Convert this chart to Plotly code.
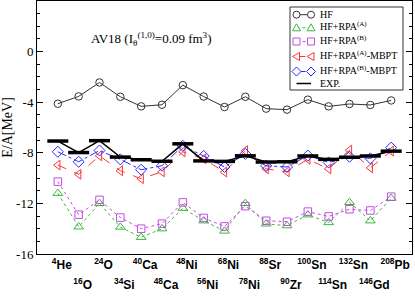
import plotly.graph_objects as go

nuclei = ["<sup>4</sup>He", "<sup>16</sup>O", "<sup>24</sup>O", "<sup>34</sup>Si", "<sup>40</sup>Ca",
          "<sup>48</sup>Ca", "<sup>48</sup>Ni", "<sup>56</sup>Ni", "<sup>68</sup>Ni", "<sup>78</sup>Ni",
          "<sup>88</sup>Sr", "<sup>90</sup>Zr", "<sup>100</sup>Sn", "<sup>114</sup>Sn", "<sup>132</sup>Sn",
          "<sup>146</sup>Gd", "<sup>208</sup>Pb"]
xpos = list(range(1, 18))

hf = [-4.12, -3.54, -2.44, -3.57, -4.33, -4.20, -2.65, -3.55, -4.38, -3.57, -4.51, -4.59, -3.80, -4.33, -4.14, -4.22, -3.86]
rpa_a = [-11.20, -13.85, -12.00, -13.87, -14.68, -14.00, -12.38, -13.37, -14.18, -12.00, -13.62, -13.76, -12.90, -13.51, -11.92, -13.37, -11.59]
rpa_b = [-10.28, -12.89, -11.72, -13.12, -14.00, -13.60, -11.92, -13.15, -13.82, -12.22, -13.37, -13.45, -12.65, -13.03, -12.46, -12.56, -11.47]
mbpt_a = [-8.97, -9.70, -8.24, -9.42, -10.05, -9.50, -7.92, -8.48, -9.52, -7.83, -9.27, -9.50, -8.51, -9.27, -7.79, -9.19, -7.87]
mbpt_b = [-7.92, -8.71, -7.82, -8.52, -9.34, -9.02, -7.45, -8.25, -9.12, -8.09, -9.03, -9.12, -8.22, -8.76, -8.31, -8.44, -7.59]
exp = [-7.07, -7.98, -7.04, -8.34, -8.55, -8.67, -7.29, -8.64, -8.68, -8.24, -8.73, -8.71, -8.25, -8.52, -8.35, -8.25, -7.87]

series_names = ["HF", "HF+RPA<sup>(A)</sup>", "HF+RPA<sup>(B)</sup>",
                "HF+RPA<sup>(A)</sup>-MBPT", "HF+RPA<sup>(B)</sup>-MBPT", "EXP."]
colors = ["#333333", "#3cb83c", "#c44be6", "#ff3535", "#2a2aff", "black"]
dashes = ["solid", "dot", "dot", "dash", "dashdot", "solid"]
symbols = ["circle-open", "triangle-up-open", "square-open", "triangle-left-open", "diamond-open", "line-ew-open"]
msizes = [7.5, 8.5, 7.5, 8.5, 8.5]

serif = "Liberation Serif"
sans = "Liberation Sans"

# plot area geometry (pixels) used for the hand-placed legend box
L, R, T, B = 37, 3, 1, 42
W, H = 415, 296
PW, PH = W - L - R, H - T - B


def px(xp):
    return (xp - L) / PW


def py(yp):
    return (H - B - yp) / PH


fig = go.Figure()
data = [hf, rpa_a, rpa_b, mbpt_a, mbpt_b]
for k, ys in enumerate(data):
    fig.add_trace(go.Scatter(x=xpos, y=ys, name=series_names[k], mode="lines+markers",
                             line=dict(color=colors[k], width=1, dash=dashes[k]),
                             marker=dict(symbol=symbols[k], size=msizes[k],
                                         color=colors[k], line=dict(width=1))))
fig.add_trace(go.Scatter(x=xpos, y=exp, name="EXP.", mode="lines+markers",
                         line=dict(color="black", width=1.5),
                         marker=dict(symbol="line-ew-open", size=15, color="black",
                                     line=dict(width=3.5, color="black"))))

odd = [i for i in range(17) if i % 2 == 0]
even = [i for i in range(17) if i % 2 == 1]

# legend drawn as a framed box with real text entries
shapes = [dict(type="rect", xref="paper", yref="paper", x0=px(290), x1=px(403), y0=py(90), y1=py(7),
               line=dict(color="#333333", width=1), fillcolor="white", layer="above")]
annotations = []
rows = [14.7, 27.8, 41.5, 56.5, 71.5, 83.5]
xa, xb = 296.5, 311
for k in range(6):
    yy = py(rows[k])
    shapes.append(dict(type="line", xref="paper", yref="paper", x0=px(xa), x1=px(xb), y0=yy, y1=yy,
                       line=dict(color=colors[k], width=1.5 if k == 5 else 1, dash=dashes[k]), layer="above"))
    if k < 5:
        for xc in (xa, xb):
            base = dict(xref="paper", yref="paper", xsizemode="pixel", ysizemode="pixel",
                        xanchor=px(xc), yanchor=yy, line=dict(color=colors[k], width=1),
                        fillcolor="white", layer="above")
            if k == 0:
                base.update(type="circle", x0=-3.5, x1=3.5, y0=-3.5, y1=3.5)
            elif k == 1:
                base.update(type="path", path="M -4,-3 L 4,-3 L 0,4 Z")
            elif k == 2:
                base.update(type="rect", x0=-3.5, x1=3.5, y0=-3.5, y1=3.5)
            elif k == 3:
                base.update(type="path", path="M -4,0 L 3,4 L 3,-4 Z")
            else:
                base.update(type="path", path="M -4.5,0 L 0,4.5 L 4.5,0 L 0,-4.5 Z")
            shapes.append(base)
    off = 1.5 if "<sup>" in series_names[k] else 0
    annotations.append(dict(x=px(318), y=py(rows[k] - off), xref="paper", yref="paper",
                            xanchor="left", yanchor="middle", showarrow=False,
                            text=series_names[k], font=dict(family=serif, size=10, color="black")))

annotations.append(dict(x=px(150.5), y=py(39), xref="paper", yref="paper", showarrow=False,
                        xanchor="center", yanchor="middle",
                        text="AV18 (I<sub>θ</sub><sup>(1,0)</sup>=0.09 fm<sup>3</sup>)",
                        font=dict(family=serif, size=13, color="black")))

fig.update_layout(
    width=W, height=H,
    margin=dict(l=L, r=R, t=T, b=B, autoexpand=False),
    plot_bgcolor="white", paper_bgcolor="white",
    showlegend=False,
    xaxis=dict(range=[0, 18], showline=True, linecolor="black", linewidth=1, mirror=True,
               showgrid=False, zeroline=False, ticks="", automargin=False,
               tickmode="array", tickvals=[xpos[i] for i in odd], ticktext=[nuclei[i] for i in odd],
               tickfont=dict(family=sans, size=12, color="black", weight="bold"),
               ticklabelshift=4, ticklabelstandoff=0),
    xaxis2=dict(range=[0, 18], overlaying="x", anchor="y", side="bottom", showline=False,
                showgrid=False, zeroline=False, ticks="", automargin=False,
                tickmode="array", tickvals=[xpos[i] for i in even], ticktext=[nuclei[i] for i in even],
                tickfont=dict(family=sans, size=12, color="black", weight="bold"),
                ticklabelshift=4, ticklabelstandoff=22),
    yaxis=dict(range=[-16, 4], showline=True, linecolor="black", linewidth=1, mirror="ticks",
               showgrid=False, zeroline=False, ticks="inside", ticklen=6, tickcolor="black",
               automargin=False,
               tickmode="array", tickvals=[-16, -12, -8, -4, 0], ticktext=["-16", "-12", "-8", "-4", "0"],
               minor=dict(dtick=1, tick0=0, ticks="inside", ticklen=3, tickcolor="black"),
               tickfont=dict(family=serif, size=13, color="black"),
               title=dict(text="E/A[MeV]", font=dict(family=serif, size=14, color="black"), standoff=6)),
    shapes=shapes,
    annotations=annotations,
)
fig.add_trace(go.Scatter(x=[xpos[0]], y=[None], xaxis="x2", showlegend=False, hoverinfo="skip"))

fig.write_html("out.html", config={"displayModeBar": False},
               post_script="document.body.style.margin='0';document.body.style.padding='0';")
